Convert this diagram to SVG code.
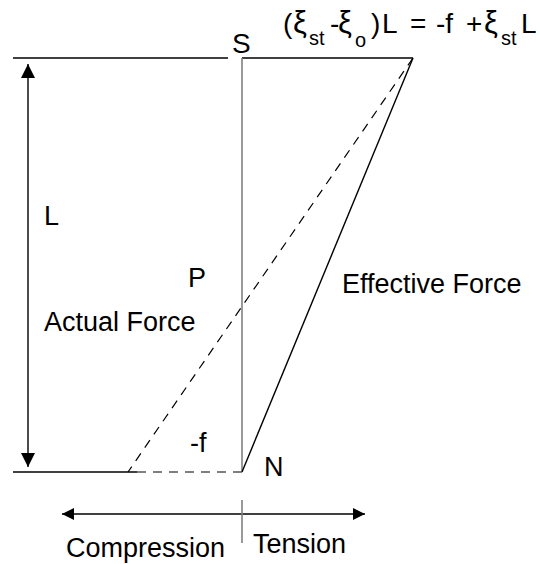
<svg xmlns="http://www.w3.org/2000/svg" width="540" height="564" viewBox="0 0 540 564">
<style>
text{font-family:"Liberation Sans",Arial,sans-serif;font-size:27px;fill:#000}
.eq{font-size:28px}
.xi{font-size:31px}
.sub{font-size:20px}
.ln{stroke:#000;stroke-width:1.4;fill:none}
.gr{stroke:#808080;stroke-width:1.6;fill:none}
.ds{stroke:#000;stroke-width:1.2;fill:none;stroke-dasharray:9 7}
</style>
<defs>
<marker id="ah" viewBox="0 0 12 12" refX="12" refY="6" markerWidth="12" markerHeight="12" markerUnits="userSpaceOnUse" orient="auto-start-reverse">
<path d="M0,0 L12,6 L0,12 Z" fill="#000"/>
</marker>
<marker id="av" viewBox="0 0 14 14" refX="14" refY="7" markerWidth="14" markerHeight="14" markerUnits="userSpaceOnUse" orient="auto-start-reverse">
<path d="M0,0 L14,7 L0,14 Z" fill="#000"/>
</marker>
</defs>
<g id="connectors">
<line class="ln" x1="13" y1="58" x2="228" y2="58"/>
<line class="ln" x1="242" y1="58" x2="413" y2="58"/>
<line class="gr" x1="242" y1="58" x2="242" y2="471"/>
<line class="ln" x1="413" y1="58" x2="242" y2="472"/>
<line class="ds" x1="413" y1="58" x2="128" y2="472"/>
<line class="ln" x1="13" y1="472" x2="137" y2="472"/>
<line class="ds" x1="137" y1="472" x2="242" y2="472"/>
<line class="ln" x1="28" y1="64" x2="28" y2="467" marker-start="url(#av)" marker-end="url(#av)"/>
<line class="ln" x1="62" y1="514" x2="365" y2="514" marker-start="url(#ah)" marker-end="url(#ah)"/>
<line class="gr" x1="242" y1="500" x2="242" y2="543"/>
</g>
<g id="label-S"><text class="eq" x="232" y="53">S</text></g>
<g id="label-eq"><text class="eq" y="33"><tspan x="283">(</tspan><tspan class="xi" x="293">ξ</tspan><tspan class="sub" x="309" y="45">st</tspan><tspan x="330" y="33">-</tspan><tspan class="xi" x="338">ξ</tspan><tspan class="sub" x="355" y="47">o</tspan><tspan x="371" y="33">)</tspan><tspan x="382">L</tspan><tspan x="410">=</tspan><tspan x="436">-f</tspan><tspan x="466">+</tspan><tspan class="xi" x="484">ξ</tspan><tspan class="sub" x="501" y="45">st</tspan><tspan x="521" y="33">L</tspan></text></g>
<g id="label-L"><text x="44" y="225">L</text></g>
<g id="label-P"><text x="188" y="287">P</text></g>
<g id="label-effective"><text x="342" y="293">Effective Force</text></g>
<g id="label-actual"><text x="44" y="331">Actual Force</text></g>
<g id="label-f"><text x="190" y="452">-f</text></g>
<g id="label-N"><text x="264" y="476">N</text></g>
<g id="label-compression"><text x="66" y="557">Compression</text></g>
<g id="label-tension"><text x="253" y="553">Tension</text></g>
</svg>
